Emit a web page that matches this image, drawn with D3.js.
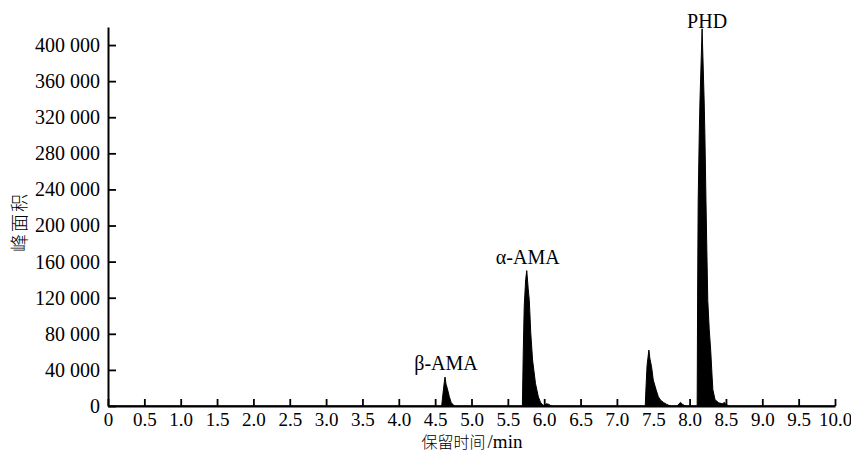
<!DOCTYPE html>
<html>
<head>
<meta charset="utf-8">
<script src="https://cdn.jsdelivr.net/npm/d3@7"></script>
<style>
  html, body { margin: 0; padding: 0; background: #fff; }
  svg { display: block; }
  text { fill: #000; }
</style>
</head>
<body>
<script>
// ---- Data (retention time in min, peak area) ----
const xTicks = [0, 0.5, 1, 1.5, 2, 2.5, 3, 3.5, 4, 4.5, 5, 5.5, 6, 6.5, 7, 7.5, 8, 8.5, 9, 9.5, 10];
const yTicks = [0, 40000, 80000, 120000, 160000, 200000, 240000, 280000, 320000, 360000, 400000];

const betaAMA = [[4.59,0],[4.60,8000],[4.625,26000],[4.636,32000],[4.65,24000],[4.667,19600],[4.695,10300],[4.72,4000],[4.75,1000],[4.77,0]];
const alphaAMA = [[5.70,0],[5.712,60000],[5.725,110000],[5.745,140000],[5.76,150000],[5.78,130000],[5.795,117000],[5.815,81000],[5.84,51000],[5.88,25000],[5.92,10000],[5.95,4000],[5.98,1000],[6.0,500],[6.03,2500],[6.06,2000],[6.09,500],[6.12,0]];
const peak75 = [[7.39,0],[7.40,20000],[7.415,45000],[7.44,62000],[7.455,52000],[7.477,43500],[7.50,28800],[7.54,17700],[7.57,10300],[7.60,6500],[7.64,4000],[7.68,2000],[7.72,500],[7.75,0],[7.83,0],[7.855,2500],[7.875,4000],[7.90,2000],[7.93,500],[7.96,0]];
const phd = [[8.104,0],[8.11,120000],[8.118,228000],[8.133,302000],[8.143,339000],[8.172,418000],[8.20,339000],[8.21,302000],[8.225,228000],[8.24,160000],[8.25,117000],[8.27,85000],[8.29,62000],[8.31,32000],[8.32,18000],[8.35,7000],[8.40,3500],[8.45,2500],[8.48,4000],[8.50,1500],[8.55,0]];

const peakLabels = [
  {name: "β-AMA", t: 4.636, v: 32000},
  {name: "α-AMA", t: 5.76, v: 150000},
  {name: "PHD", t: 8.172, v: 418000}
];

const xTitleCJK = "保留时间";
const xTitleUnit = "/min";
const yTitle = "峰面积";

// ---- Layout ----
const W = 851, H = 452;
const svg = d3.select("body").append("svg").attr("width", W).attr("height", H);
svg.append("rect").attr("width", W).attr("height", H).attr("fill", "#fff");

const x = d3.scaleLinear().domain([0, 10]).range([108, 835]);
const y = d3.scaleLinear().domain([0, 420000]).range([406, 27]);

const series = [[0, 0], ...betaAMA, ...alphaAMA, ...peak75, ...phd, [10, 0]];

const area = d3.area().x(d => x(d[0])).y0(y(0)).y1(d => y(d[1]));
svg.append("path").datum(series).attr("d", area)
  .attr("fill", "#000").attr("stroke", "#000").attr("stroke-width", 1).attr("stroke-linejoin", "round");

const serif = "'Liberation Serif', 'Times New Roman', serif";
const loc = d3.formatLocale({decimal: ".", thousands: " ", grouping: [3], currency: ["", ""]});
const fmtY = loc.format(",d");

const xAxis = d3.axisBottom(x).tickValues(xTicks)
  .tickFormat(d => d === 0 ? "0" : d3.format(".1f")(d))
  .tickSizeInner(-7).tickSizeOuter(0).tickPadding(7);
const gx = svg.append("g").attr("transform", `translate(0,${y(0)})`).call(xAxis);

const yAxis = d3.axisLeft(y).tickValues(yTicks).tickFormat(fmtY)
  .tickSizeInner(-8).tickSizeOuter(0).tickPadding(8);
const gy = svg.append("g").attr("transform", `translate(${x(0)},0)`).call(yAxis);

[gx, gy].forEach(g => {
  g.select(".domain").attr("stroke", "#000").attr("stroke-width", 2);
  g.selectAll(".tick line").attr("stroke", "#000").attr("stroke-width", 1.8);
  g.selectAll(".tick text").attr("font-family", serif).attr("font-size", 20).attr("fill", "#000");
});
gx.selectAll(".tick text").attr("font-size", 19).attr("dy", "0.7em");

// peak labels
svg.selectAll(".plabel").data(peakLabels).enter().append("text")
  .attr("class", "plabel")
  .attr("x", d => x(d.t) + (d.name === "PHD" ? 5 : 1))
  .attr("y", d => y(d.v) - (d.name === "PHD" ? 1 : 7))
  .attr("text-anchor", "middle")
  .attr("font-family", serif).attr("font-size", 20)
  .text(d => d.name);

// axis titles
const xt = svg.append("text").attr("x", 472).attr("y", 447.5).attr("text-anchor", "middle")
  .attr("font-family", serif);
xt.append("tspan").attr("font-family", "'Noto Sans CJK SC', sans-serif").attr("font-size", 16).attr("font-weight", 300).text(xTitleCJK);
xt.append("tspan").attr("font-size", 19).attr("dx", 2).text(xTitleUnit);

svg.append("text").attr("transform", "translate(26,222) rotate(-90)")
  .attr("text-anchor", "middle")
  .attr("font-family", "'Noto Sans CJK SC', sans-serif").attr("font-size", 18).attr("font-weight", 300)
  .attr("letter-spacing", 2)
  .text(yTitle);
</script>
</body>
</html>
